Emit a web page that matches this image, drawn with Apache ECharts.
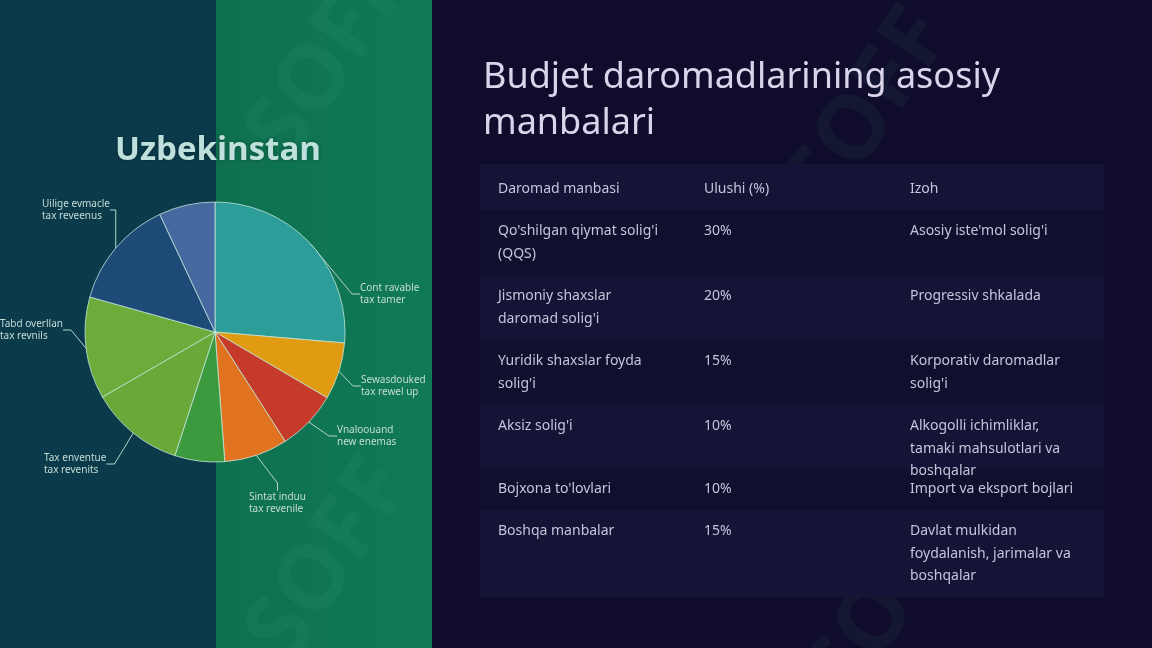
<!DOCTYPE html>
<html>
<head>
<meta charset="utf-8">
<script src="https://cdn.jsdelivr.net/npm/echarts@6/dist/echarts.min.js"></script>
<style>
html,body{margin:0;padding:0;background:#100e2c;}
#main{width:1152px;height:648px;}
</style>
</head>
<body>
<div id="main"></div>
<script>
// ---- data ----
const pieTitle = "Uzbekinstan";
const sliceNames = [
  "Cont ravable\ntax tamer",
  "Sewasdouked\ntax rewel up",
  "Vnaloouand\nnew enemas",
  "Sintat induu\ntax revenile",
  "",
  "Tax enventue\ntax revenits",
  "Tabd overllan\ntax revnils",
  "Uilige evmacle\ntax reveenus",
  ""
];
const sliceValues = [26.4, 7.1, 7.5, 7.9, 6.2, 11.7, 12.7, 13.7, 7.0];
const sliceColors = ["#2c9d99", "#e09b12", "#c63a2a", "#e07220", "#3b9a3e", "#68a93a", "#6cac3b", "#1e4a78", "#4669a0"];

const slideTitle = "Budjet daromadlarining asosiy\nmanbalari";
const tableHeaders = ["Daromad manbasi", "Ulushi (%)", "Izoh"];
const sources = [
  "Qo'shilgan qiymat solig'i\n(QQS)",
  "Jismoniy shaxslar\ndaromad solig'i",
  "Yuridik shaxslar foyda\nsolig'i",
  "Aksiz solig'i",
  "Bojxona to'lovlari",
  "Boshqa manbalar"
];
const shares = [30, 20, 15, 10, 10, 15];
const notes = [
  "Asosiy iste'mol solig'i",
  "Progressiv shkalada",
  "Korporativ daromadlar\nsolig'i",
  "Alkogolli ichimliklar,\ntamaki mahsulotlari va\nboshqalar",
  "Import va eksport bojlari",
  "Davlat mulkidan\nfoydalanish, jarimalar va\nboshqalar"
];

// ---- layout ----
const labelPos = [
  {x: 360, y: 282}, {x: 361, y: 374}, {x: 337, y: 424}, {x: 249, y: 491},
  null, {x: 44, y: 452}, {x: 0, y: 318}, {x: 42, y: 198}, null
];
const rowTops = [164, 210, 275, 340, 405, 468, 510, 597];
const colX = [498, 704, 910];
const textColor = "#c6c4da";
const font = "'Noto Sans', 'Open Sans', sans-serif";

const graphics = [];
// backgrounds
graphics.push({type:'rect', shape:{x:0,y:0,width:216,height:648}, style:{fill:'#0b3b4b'}, z:-10, silent:true});
graphics.push({type:'rect', shape:{x:216,y:0,width:216,height:648}, style:{fill:{type:'linear',x:0,y:0,x2:1,y2:0,colorStops:[{offset:0,color:'#0e7050'},{offset:1,color:'#107a56'}]}}, z:-10, silent:true});
graphics.push({type:'rect', shape:{x:432,y:0,width:720,height:648}, style:{fill:'#0f0d2b'}, z:-10, silent:true});
// watermarks
const wm = [[330,60],[870,110],[330,560],[890,600]];
wm.forEach(p => graphics.push({type:'text', x:p[0], y:p[1], rotation:Math.PI/3.2, style:{text:'SOFF', fill:'rgba(120,220,190,0.05)', font:"bold 90px 'Open Sans'", align:'center', verticalAlign:'middle'}, z:-5, silent:true}));
// table panel
graphics.push({type:'rect', shape:{x:480,y:164,width:624,height:433}, style:{fill:'#141335'}, z:-4, silent:true});
for (let i = 0; i < rowTops.length - 1; i++) {
  graphics.push({type:'rect', shape:{x:480,y:rowTops[i],width:624,height:rowTops[i+1]-rowTops[i]},
    style:{fill: i % 2 === 0 ? '#151436' : '#100f2e'}, z:-3, silent:true});
}
// slide title
graphics.push({type:'text', x:483, y:55, style:{text:slideTitle, fill:'#d8d5ea', font:"36px " + font, lineHeight:46}, z:5});
// pie title
graphics.push({type:'text', x:218, y:151, style:{text:pieTitle, fill:'#bfe0dc', font:"bold 33px 'Open Sans'", align:'center', verticalAlign:'middle', textShadowColor:'rgba(0,0,0,0.3)', textShadowBlur:4}, z:5});
// table header
tableHeaders.forEach((h, j) => graphics.push({type:'text', x:colX[j], y:189, style:{text:h, fill:textColor, font:"14px " + font, verticalAlign:'middle'}, z:5}));
// table rows
for (let i = 0; i < sources.length; i++) {
  const y = rowTops[i+1] + 10;
  const cells = [sources[i], shares[i] + "%", notes[i]];
  cells.forEach((c, j) => graphics.push({type:'text', x:colX[j], y:y, style:{text:c, fill:textColor, font:"14px " + font, lineHeight:22.5}, z:5}));
}

const chart = echarts.init(document.getElementById('main'));
chart.setOption({
  animation: false,
  backgroundColor: '#0f0d2b',
  graphic: graphics,
  series: [{
    type: 'pie',
    center: [215, 332],
    radius: 130,
    startAngle: 90,
    clockwise: true,
    avoidLabelOverlap: false,
    data: sliceValues.map((v, i) => ({
      name: sliceNames[i], value: v,
      itemStyle: {color: sliceColors[i]},
      label: {show: !!sliceNames[i]},
      labelLine: {show: !!sliceNames[i]}
    })),
    itemStyle: {borderColor: 'rgba(200,235,225,0.75)', borderWidth: 1},
    label: {show: true, position: 'outside', color: '#c4dcd6', fontSize: 10, lineHeight: 12, fontFamily: "'Noto Sans', sans-serif", formatter: '{b}', align: 'left'},
    labelLine: {show: true, length: 10, length2: 8, lineStyle: {color: '#b4d4cc', width: 1}},
    labelLayout: function (p) {
      const pos = labelPos[p.dataIndex];
      if (!pos) return {};
      return {x: pos.x, y: pos.y, align: 'left', verticalAlign: 'top'};
    },
    emphasis: {disabled: true}
  }]
});
</script>
</body>
</html>
